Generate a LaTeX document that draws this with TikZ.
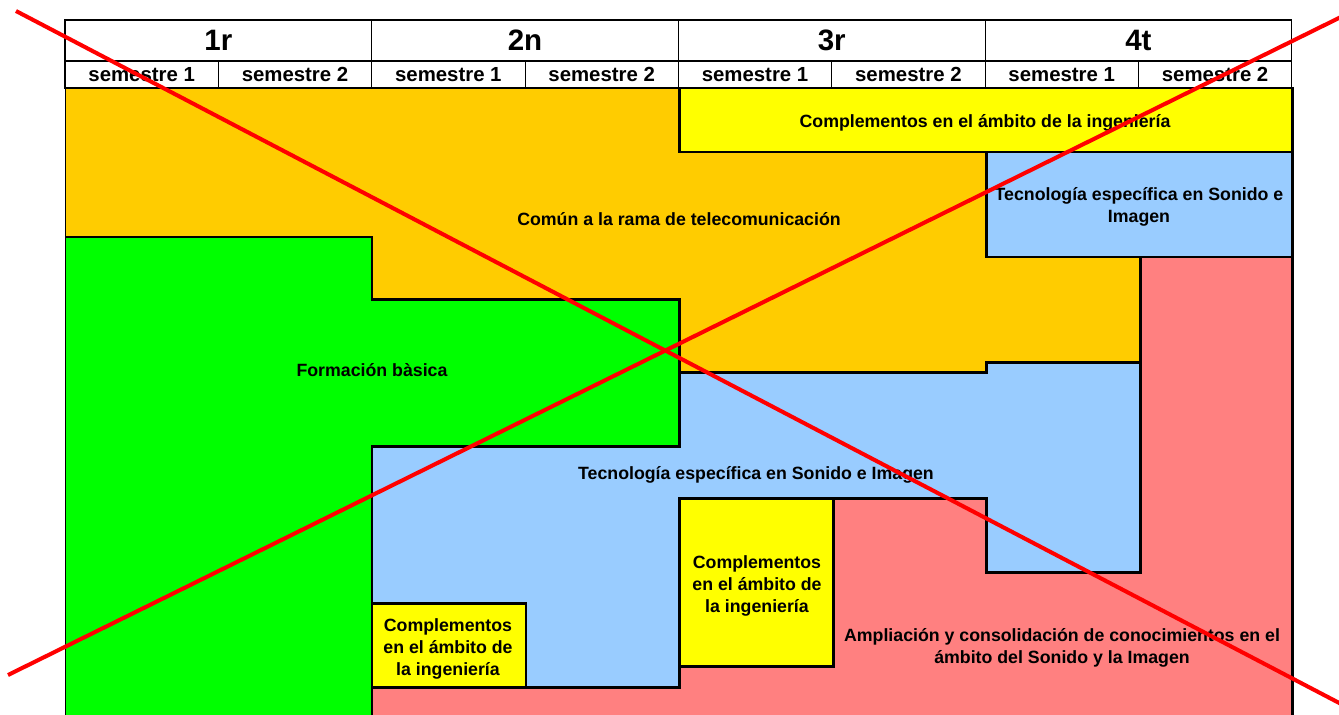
\documentclass[tikz,border=0pt]{standalone}
\usepackage{fontspec}
\setmainfont{Liberation Sans}
\usepackage{tikz}
\usetikzlibrary{positioning}
\definecolor{comunorange}{RGB}{255,204,0}
\definecolor{complyellow}{RGB}{255,255,0}
\definecolor{basicgreen}{RGB}{0,255,0}
\definecolor{tecblue}{RGB}{153,204,255}
\definecolor{amplred}{RGB}{255,128,128}
\tikzset{
  yearcell/.style={draw,line width=0.6pt,minimum width=6.135cm,minimum height=0.82cm,
    inner sep=0pt,outer sep=0pt,font=\bfseries\fontsize{16.8}{18}\selectfont},
  semcell/.style={draw,line width=0.6pt,minimum width=3.0675cm,minimum height=0.54cm,
    inner sep=0pt,outer sep=0pt,font=\bfseries\fontsize{11.6}{13}\selectfont},
  area/.style={draw=black,line width=1.7pt},
  arealabel/.style={inner sep=0pt,align=center,font=\bfseries\fontsize{10.1}{12.5}\selectfont},
  crossline/.style={draw=red,line width=2.3pt}
}

\begin{document}
\begin{tikzpicture}[x=0.02cm,y=-0.02cm]
  \useasboundingbox (0,0) rectangle (1339,714);
  \begin{scope}
    \clip (65,0) rectangle (1339,714);
    \draw[area,fill=comunorange] (65,88) -- (679,88) -- (679,152) -- (986,152) -- (986,257)
      -- (1140,257) -- (1140,362) -- (986,362) -- (986,372) -- (679,372) -- (679,299)
      -- (372,299) -- (372,237) -- (65,237) -- cycle;
    \draw[area,fill=complyellow] (679,88) rectangle (1292,152);
    \draw[area,fill=tecblue] (986,152) rectangle (1292,257);
    \draw[area,fill=basicgreen] (65,237) -- (372,237) -- (372,299) -- (679,299) -- (679,446)
      -- (372,446) -- (372,730) -- (65,730) -- cycle;
    \draw[area,fill=tecblue] (372,446) -- (679,446) -- (679,372) -- (986,372) -- (986,362)
      -- (1140,362) -- (1140,572) -- (986,572) -- (986,498) -- (679,498) -- (679,687)
      -- (372,687) -- cycle;
    \draw[area,fill=amplred] (372,687) -- (679,687) -- (679,666) -- (833,666) -- (833,498)
      -- (986,498) -- (986,572) -- (1140,572) -- (1140,257) -- (1292,257) -- (1292,730)
      -- (372,730) -- cycle;
    \draw[area,fill=complyellow] (679,498) rectangle (833,666);
    \draw[area,fill=complyellow] (372,603) rectangle (526,687);
  \end{scope}

  \node[yearcell,anchor=north west] (Y1) at (65,20) {1r};
  \node[yearcell,right=0pt of Y1] (Y2) {2n};
  \node[yearcell,right=0pt of Y2] (Y3) {3r};
  \node[yearcell,right=0pt of Y3] (Y4) {4t};
  \node[semcell,anchor=north west] (S1) at (Y1.south west) {semestre 1};
  \node[semcell,right=0pt of S1] (S2) {semestre 2};
  \node[semcell,right=0pt of S2] (S3) {semestre 1};
  \node[semcell,right=0pt of S3] (S4) {semestre 2};
  \node[semcell,right=0pt of S4] (S5) {semestre 1};
  \node[semcell,right=0pt of S5] (S6) {semestre 2};
  \node[semcell,right=0pt of S6] (S7) {semestre 1};
  \node[semcell,right=0pt of S7] (S8) {semestre 2};

  \node[arealabel] (comun) at (679,219) {Común a la rama de telecomunicación};
  \node[arealabel] (compltop) at (985,123) {Complementos en el ámbito de la ingeniería};
  \node[arealabel] (tectop) at (1139,207) {Tecnología específica en Sonido e\\Imagen};
  \node[arealabel] (basica) at (372,370) {Formación bàsica};
  \node[arealabel] (tecmain) at (756,475) {Tecnología específica en Sonido e Imagen};
  \node[arealabel] (complmid) at (757,586) {Complementos\\en el ámbito de\\la ingeniería};
  \node[arealabel] (compllow) at (448,649) {Complementos\\en el ámbito de\\la ingeniería};
  \node[arealabel] (ampl) at (1062,648) {Ampliación y consolidación de conocimientos en el\\ámbito del Sonido y la Imagen};

  \coordinate (crossA) at (16,11);
  \coordinate (crossB) at (1345,706);
  \coordinate (crossC) at (8,675);
  \coordinate (crossD) at (1345,15);
  \draw[crossline] (crossA) -- (crossB);
  \draw[crossline] (crossC) -- (crossD);
\end{tikzpicture}
\end{document}
